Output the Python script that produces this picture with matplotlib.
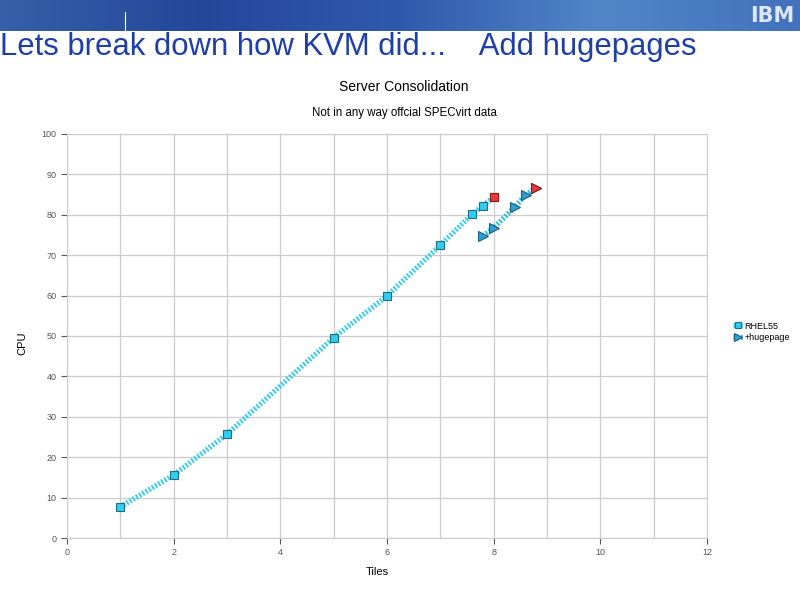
import numpy as np
import matplotlib
matplotlib.use("Agg")
import matplotlib.pyplot as plt
from matplotlib.colors import LinearSegmentedColormap

plt.rcParams["font.family"] = ["Liberation Sans", "DejaVu Sans"]

# data
rhel_x = [1, 2, 3, 5, 6, 7, 7.6, 7.8, 8.0]
rhel_y = [7.7, 15.6, 25.7, 49.6, 59.9, 72.5, 80.2, 82.3, 84.4]
huge_x = [7.8, 8.0, 8.4, 8.6, 8.8]
huge_y = [74.8, 76.7, 82.0, 84.9, 86.7]
series_names = ["RHEL55", "+hugepage"]

fig = plt.figure(figsize=(8, 6), dpi=100)

# header banner with gradient
banner = fig.add_axes([0, 1 - 31 / 600, 1, 31 / 600])
grad = np.linspace(0, 1, 256).reshape(1, -1)
cmap = LinearSegmentedColormap.from_list("hdr", ["#3560a8", "#24479a", "#2f5aac", "#5285c8", "#4272bc"])
banner.imshow(grad, aspect="auto", cmap=cmap, extent=[0, 1, 0, 1])
banner.plot([125 / 800, 125 / 800], [0, 0.6], color="white", lw=0.8)
banner.text(0.965, 0.5, "IBM", color="#dde6f5", fontsize=15, fontweight="bold",
            ha="center", va="center", family="DejaVu Sans")
banner.set_xlim(0, 1)
banner.set_ylim(0, 1)
banner.axis("off")

fig.text(0.0, 1 - 47 / 600, "Lets break down how KVM did...    Add hugepages",
         color="#1f3fa8", fontsize=22.4, ha="left", va="center")
fig.text(404 / 800, 1 - 87 / 600, "Server Consolidation", fontsize=10, ha="center", va="center")
fig.text(404 / 800, 1 - 113 / 600, "Not in any way offcial SPECvirt data", fontsize=8.3, ha="center", va="center")

ax = fig.add_axes([67 / 800, 1 - 538 / 600, 640 / 800, 404 / 600])

cyan = "#33ccee"
ax.plot(rhel_x, rhel_y, color=cyan, lw=3.8, ls=(0, (0.35, 0.35)), marker="s", ms=6,
        mfc=cyan, mec="#1a6f80", mew=0.8, label=series_names[0], zorder=3)
ax.plot(huge_x, huge_y, color="#2fb9df", lw=3.8, ls=(0, (0.35, 0.35)), marker=">", ms=7.5,
        mfc="#2e9fcf", mec="#1a5f80", mew=0.8, label=series_names[1], zorder=3)
# highlighted last points
ax.plot(rhel_x[-1:], rhel_y[-1:], ls="none", marker="s", ms=6, mfc="#e83a3a", mec="#8a1a1a", mew=0.8, zorder=4)
ax.plot(huge_x[-1:], huge_y[-1:], ls="none", marker=">", ms=7.5, mfc="#e83a3a", mec="#8a1a1a", mew=0.8, zorder=4)

ax.set_xlim(0, 12)
ax.set_ylim(0, 100)
ax.set_xticks(range(0, 13, 2))
ax.set_xticks(range(1, 13, 2), minor=True)
ax.set_yticks(range(0, 101, 10))
ax.grid(True, which="both", color="#cccccc", lw=0.9)
ax.set_axisbelow(True)
ax.tick_params(axis="both", which="major", labelsize=6.5, colors="#555555", length=4, width=0.8)
ax.tick_params(axis="x", which="minor", length=0)
for s in ax.spines.values():
    s.set_color("#cccccc")

fig.text(377 / 800, 1 - 572 / 600, "Tiles", fontsize=8, ha="center", va="center")
fig.text(22 / 800, 1 - 343 / 600, "CPU", fontsize=8, ha="center", va="center", rotation=90)

fig.legend(loc="center left", bbox_to_anchor=(728 / 800, 1 - 332 / 600), frameon=False,
           fontsize=6.5, handlelength=1.2, handletextpad=0.1, labelspacing=0.3, markerscale=0.7,
           borderpad=0)

fig.savefig("out.png", dpi=100)
